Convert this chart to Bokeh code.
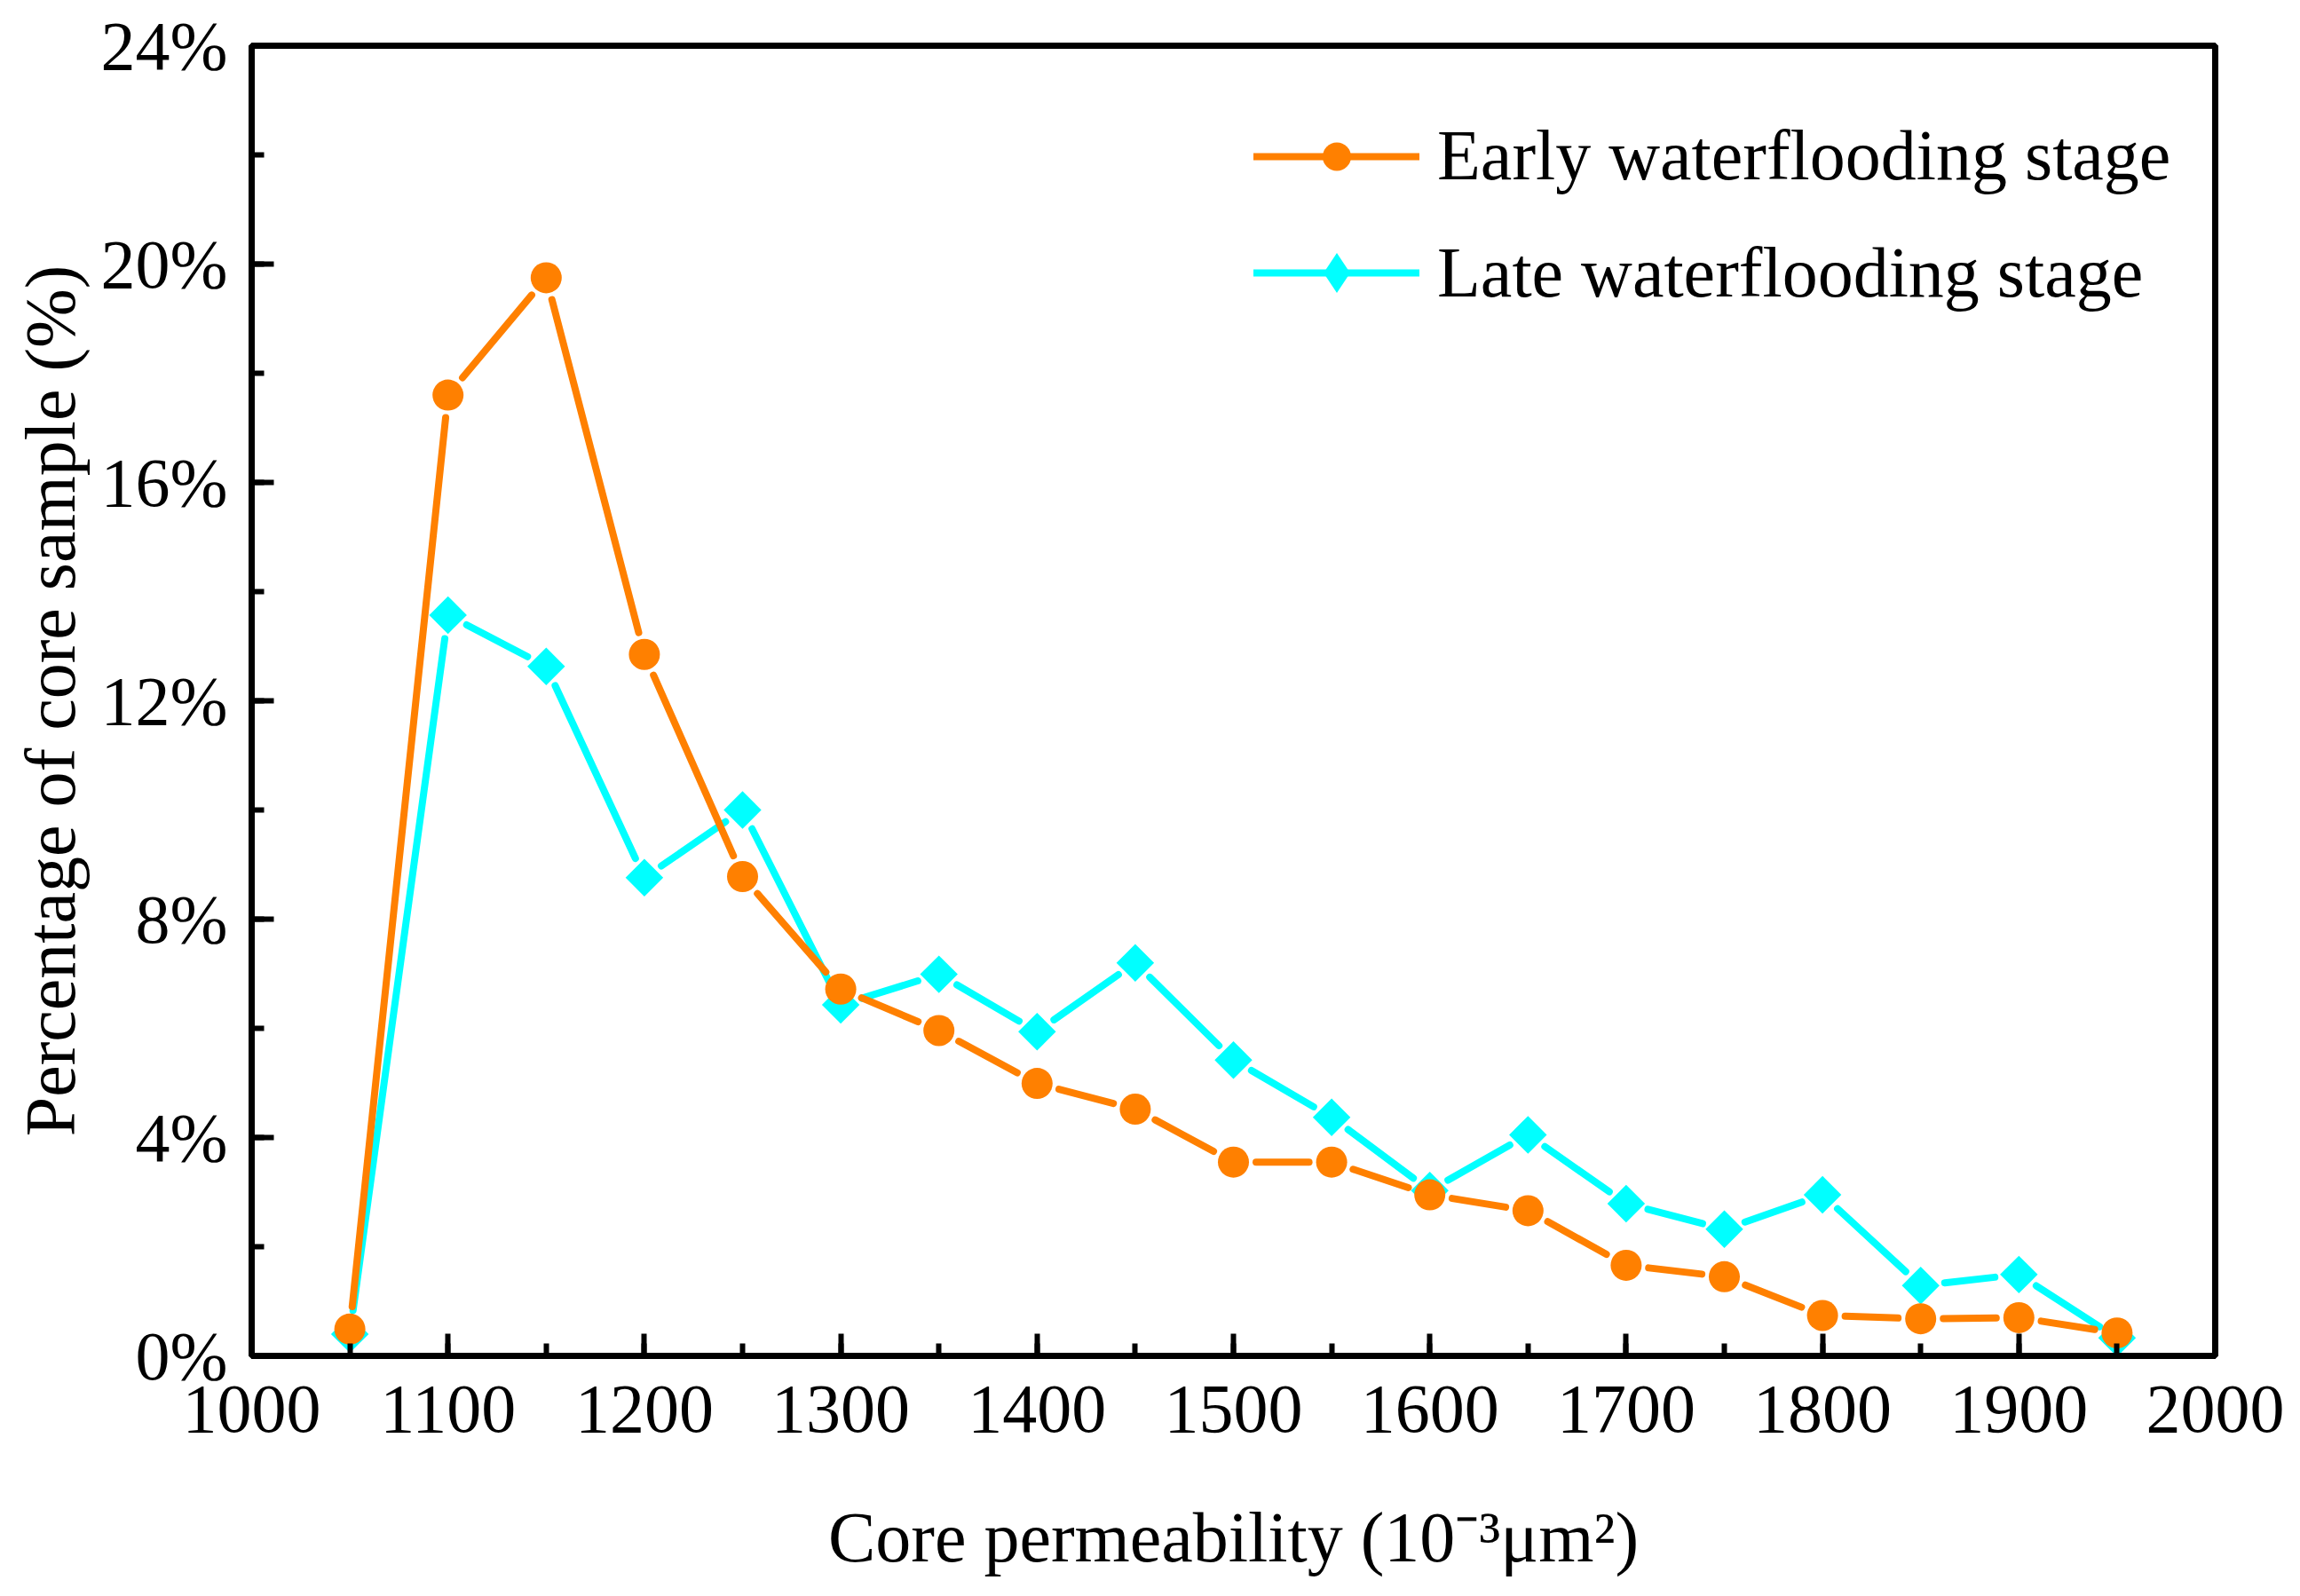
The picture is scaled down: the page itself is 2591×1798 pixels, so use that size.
import math
from bokeh.plotting import figure
from bokeh.models import (Range1d, SingleIntervalTicker, PrintfTickFormatter,
                          Legend, LegendItem, ColumnDataSource)
from bokeh.embed import file_html
from bokeh.resources import INLINE

# ---- data ----
permeability = [1050, 1100, 1150, 1200, 1250, 1300, 1350, 1400, 1450, 1500,
                1550, 1600, 1650, 1700, 1750, 1800, 1850, 1900, 1950]
early_stage = [0.49, 17.6, 19.75, 12.85, 8.78, 6.72, 5.96, 4.99, 4.52, 3.55,
               3.55, 2.95, 2.66, 1.66, 1.45, 0.74, 0.68, 0.70, 0.42]
late_stage = [0.40, 13.57, 12.63, 8.76, 10.0, 6.43, 6.99, 5.94, 7.2, 5.42,
              4.37, 3.03, 4.05, 2.79, 2.32, 2.95, 1.29, 1.49, 0.33]
series_names = ["Early waterflooding stage", "Late waterflooding stage"]
x_label = "Core permeability (10\u207b\u00b3\u03bcm\u00b2)"
y_label = "Percentage of core sample (%)"

X_MIN, X_MAX = 1000, 2000
Y_MIN, Y_MAX = 0, 24

W, H = 2575, 1782
BL, BT = 283, 51
FW, FH = 2212, 1476
BR, BB = W - BL - FW, H - BT - FH

ORANGE = "#FF8000"
CYAN = "#00FFFF"
FONT = "Liberation Serif"
LW = 8
GAP = 4
CIRCLE_SIZE = 35
SQUARE_SIZE = 30

p = figure(width=W, height=H, output_backend="svg", toolbar_location=None,
           x_range=Range1d(X_MIN, X_MAX), y_range=Range1d(Y_MIN, Y_MAX),
           min_border_left=BL, min_border_right=BR, min_border_top=BT,
           min_border_bottom=BB)
p.background_fill_color = "white"
p.border_fill_color = "white"
p.grid.visible = False
p.outline_line_color = "black"
p.outline_line_width = 7
p.outline_line_alpha = 1.0

# ---- gapped line segments (Origin style) ----
px_x = FW / (X_MAX - X_MIN)
px_y = FH / (Y_MAX - Y_MIN)


def gapped(xs, ys, kind):
    x0s, y0s, x1s, y1s = [], [], [], []
    for i in range(len(xs) - 1):
        dx = (xs[i + 1] - xs[i]) * px_x
        dy = (ys[i + 1] - ys[i]) * px_y
        L = math.hypot(dx, dy)
        ux, uy = dx / L, dy / L
        if kind == "circle":
            d = CIRCLE_SIZE / 2 + GAP + LW / 2
        else:
            h = SQUARE_SIZE * math.sqrt(2) / 2
            d = h / (abs(ux) + abs(uy)) + GAP + LW / 2
        if L <= 2 * d:
            continue
        x0s.append(xs[i] + ux * d / px_x)
        y0s.append(ys[i] + uy * d / px_y)
        x1s.append(xs[i + 1] - ux * d / px_x)
        y1s.append(ys[i + 1] - uy * d / px_y)
    return ColumnDataSource(dict(x0=x0s, y0=y0s, x1=x1s, y1=y1s))


late_seg = p.segment("x0", "y0", "x1", "y1", source=gapped(permeability, late_stage, "square"),
                     line_color=CYAN, line_width=LW, line_cap="round")
late_mk = p.scatter(permeability, late_stage, marker="square", size=SQUARE_SIZE,
                    angle=math.pi / 4, fill_color=CYAN, line_color=CYAN, line_width=0)
# legend key for the diamond (Bokeh legends draw markers unrotated)
late_key = p.scatter(permeability, late_stage, marker="diamond", size=SQUARE_SIZE,
                     fill_color=CYAN, line_color=CYAN, line_width=0, visible=False)
early_seg = p.segment("x0", "y0", "x1", "y1", source=gapped(permeability, early_stage, "circle"),
                      line_color=ORANGE, line_width=LW, line_cap="round")
early_mk = p.scatter(permeability, early_stage, marker="circle", size=CIRCLE_SIZE,
                     fill_color=ORANGE, line_color=ORANGE, line_width=0)

# ---- axes ----
for ax in (p.xaxis[0], p.yaxis[0]):
    ax.axis_line_width = 7
    ax.axis_line_color = "black"
    ax.major_tick_in = 25
    ax.major_tick_out = 0
    ax.minor_tick_in = 14
    ax.minor_tick_out = 0
    ax.major_tick_line_width = 6
    ax.minor_tick_line_width = 6
    ax.major_tick_line_color = "black"
    ax.minor_tick_line_color = "black"
    ax.major_label_text_font = FONT
    ax.major_label_text_font_size = "78px"
    ax.major_label_text_color = "black"
    ax.axis_label_text_font = FONT
    ax.axis_label_text_font_size = "80px"
    ax.axis_label_text_font_style = "normal"
    ax.axis_label_text_color = "black"

p.xaxis.ticker = SingleIntervalTicker(interval=100, num_minor_ticks=2)
p.yaxis.ticker = SingleIntervalTicker(interval=4, num_minor_ticks=2)
p.yaxis.formatter = PrintfTickFormatter(format="%d%%")
p.xaxis.axis_label = x_label
p.yaxis.axis_label = y_label
p.xaxis.major_label_standoff = 34
p.xaxis.axis_label_standoff = 72
p.yaxis.major_label_standoff = 27
p.yaxis.axis_label_standoff = 10

# ---- legend (one per row, so each key can have its own marker size) ----
TEXT_H = 92
ROW1_C, ROW2_C = 124, 256      # row centres below the top of the plot area
common = dict(glyph_width=187, padding=0, margin=0, label_standoff=20,
              label_text_font=FONT, label_text_font_size="80px",
              label_text_color="black", border_line_alpha=0, background_fill_alpha=0)
GH1 = 80
h1 = max(GH1, TEXT_H)
legend1 = Legend(items=[LegendItem(label=series_names[0], renderers=[early_seg, early_mk])],
                 location=(1129, FH - (ROW1_C - h1 / 2) - h1), glyph_height=GH1, **common)
GH2 = 112
h2 = max(GH2, TEXT_H)
legend2 = Legend(items=[LegendItem(label=series_names[1], renderers=[late_seg, late_key])],
                 location=(1129, FH - (ROW2_C - h2 / 2) - h2), glyph_height=GH2, **common)
p.add_layout(legend1, "center")
p.add_layout(legend2, "center")

open("out.html", "w").write(file_html(p, INLINE))
